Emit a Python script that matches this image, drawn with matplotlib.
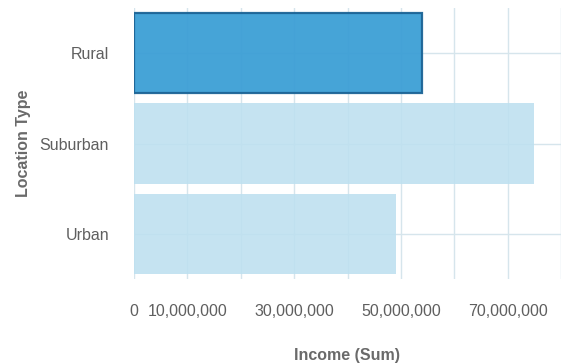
import matplotlib
matplotlib.use("Agg")
import matplotlib.pyplot as plt
from matplotlib.ticker import FuncFormatter

# Data
categories = ["Rural", "Suburban", "Urban"]
income_sum = [53_900_000, 75_000_000, 49_100_000]
highlighted = "Rural"
tick_values = [0, 10_000_000, 20_000_000, 30_000_000, 40_000_000,
               50_000_000, 60_000_000, 70_000_000, 80_000_000]
labeled_ticks = [0, 10_000_000, 30_000_000, 50_000_000, 70_000_000]

plt.rcParams["font.family"] = ["Liberation Sans", "DejaVu Sans"]

fig = plt.figure(figsize=(5.67, 3.64), dpi=100)
ax = fig.add_axes([134 / 567, 1 - 279 / 364, (561 - 134) / 567, (279 - 8) / 364])

y = list(range(len(categories)))
for yi, cat, val in zip(y, categories, income_sum):
    if cat == highlighted:
        ax.barh(yi, val, height=0.89, color="#3c9fd5", alpha=0.95,
                edgecolor="#1c6496", linewidth=1.6, zorder=2)
    else:
        ax.barh(yi, val, height=0.89, color="#bde0f0", alpha=0.88,
                edgecolor="none", zorder=2)

ax.set_ylim(len(categories) - 0.5, -0.5)
ax.set_xlim(0, 80_000_000)
ax.set_yticks(y)
ax.set_yticklabels(categories)
ax.set_xticks(tick_values)
ax.xaxis.set_major_formatter(
    FuncFormatter(lambda v, p: f"{int(v):,}" if int(v) in labeled_ticks else ""))

ax.grid(True, color="#d6e5ec", linewidth=1.0, zorder=1)
ax.set_axisbelow(True)
for s in ax.spines.values():
    s.set_visible(False)

ax.tick_params(axis="both", length=0, colors="#5f5f5f", labelsize=11.5)
ax.tick_params(axis="x", pad=18)
ax.tick_params(axis="y", pad=18)

ax.set_xlabel("Income (Sum)", fontsize=11.5, fontweight="bold",
              color="#6a6a6a", labelpad=21)
ax.set_ylabel("Location Type", fontsize=11.5, fontweight="bold",
              color="#6a6a6a", labelpad=6)

fig.savefig("out.png", dpi=100)
